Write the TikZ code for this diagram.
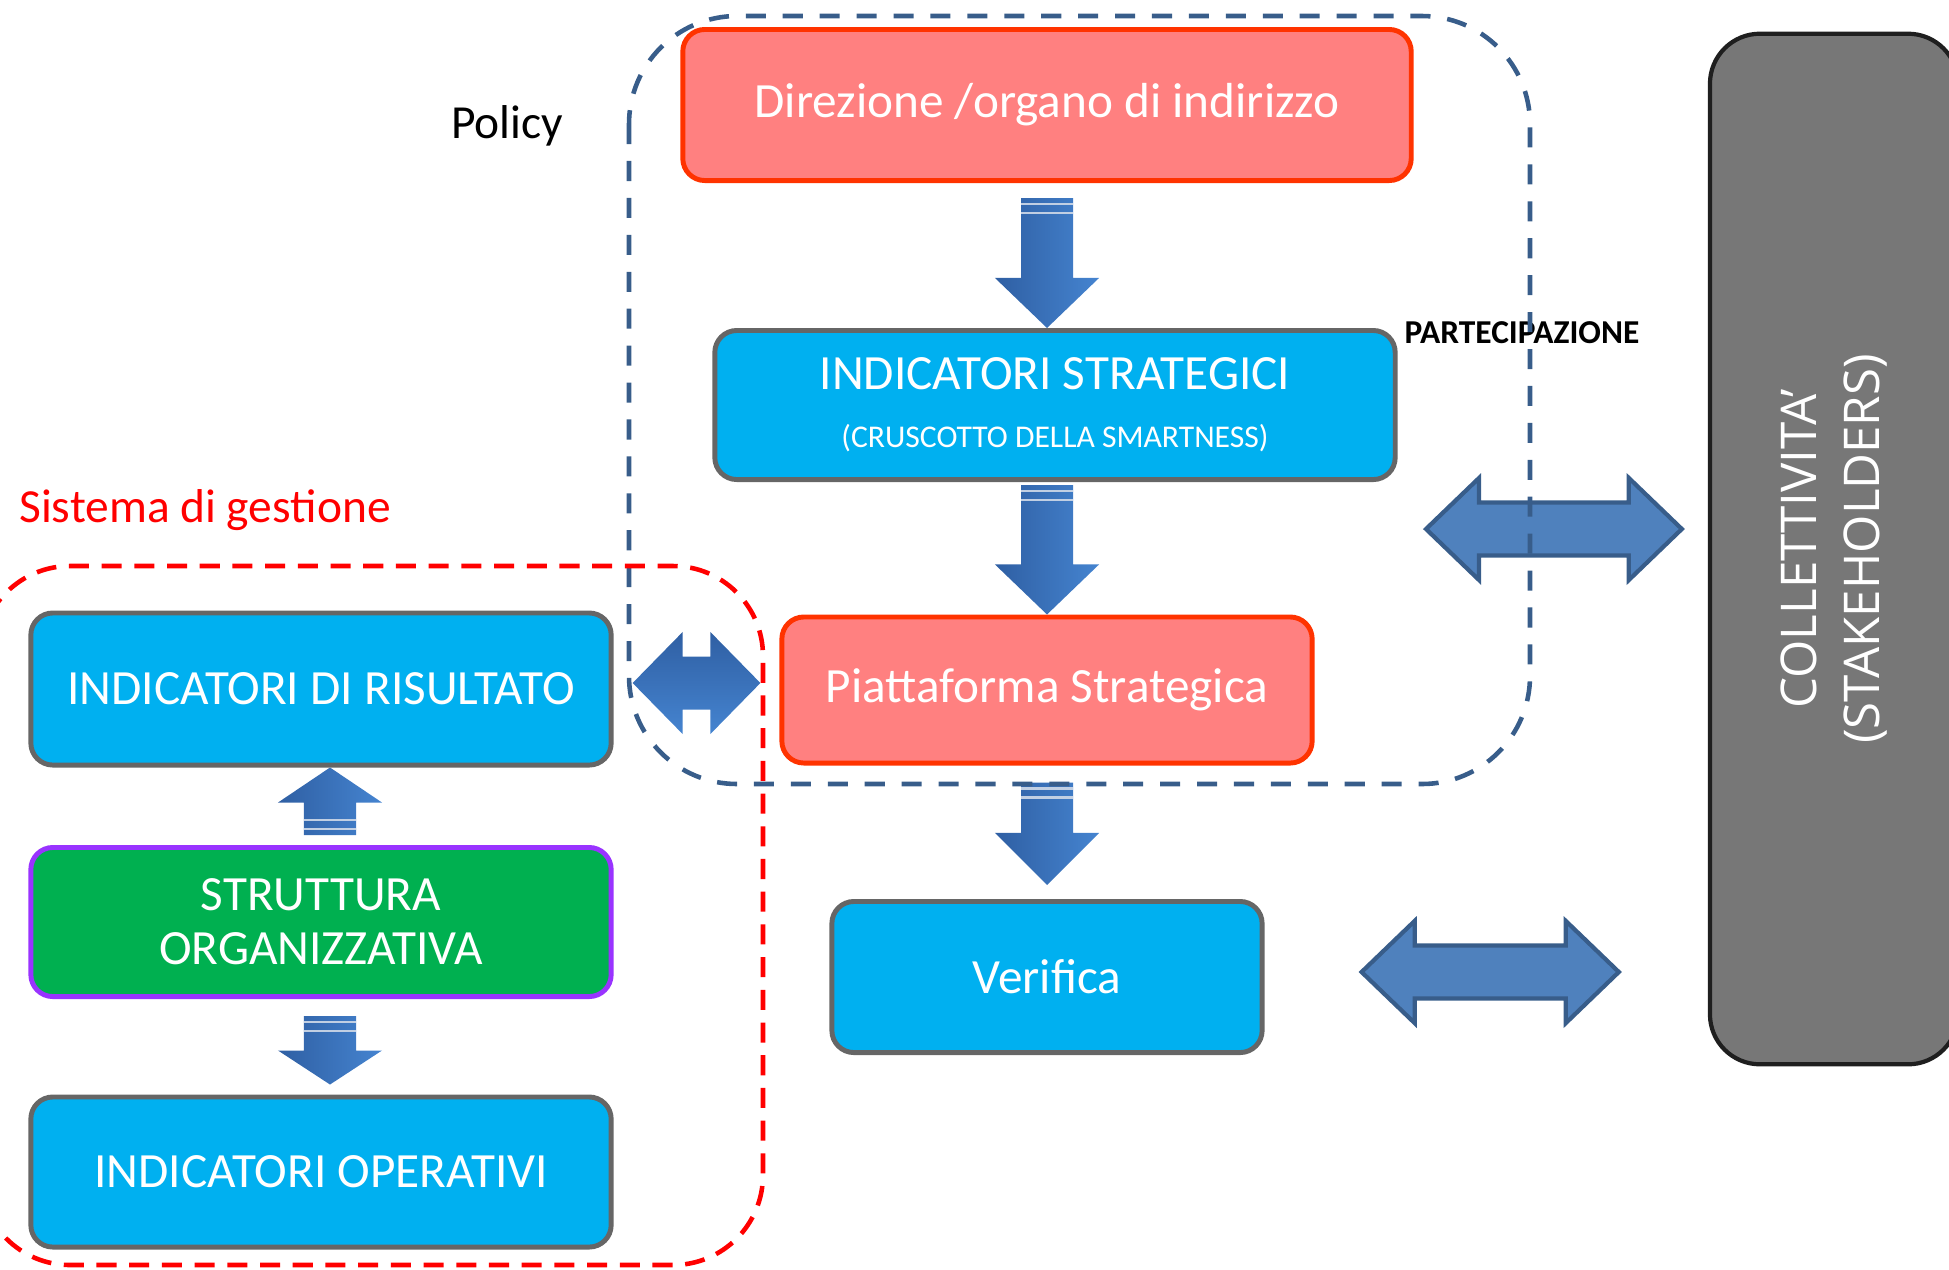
\documentclass[tikz,border=0pt]{standalone}
\usepackage{fontspec}
\setmainfont{Carlito}
\newfontfamily\collfont{Open Sans}
\usepackage{tikz}
\usetikzlibrary{calc}

\definecolor{boxpink}{HTML}{FF8080}
\definecolor{boxred}{HTML}{FF3300}
\definecolor{boxblue}{HTML}{00B0F0}
\definecolor{boxgray}{HTML}{666666}
\definecolor{boxgreen}{HTML}{00B050}
\definecolor{boxpurple}{HTML}{9933FF}
\definecolor{collgray}{HTML}{777777}
\definecolor{colledge}{HTML}{1F1F1F}
\definecolor{arrowdark}{HTML}{2F5FA3}
\definecolor{arrowlight}{HTML}{4584D0}
\definecolor{flatfill}{HTML}{4F81BD}
\definecolor{flatline}{HTML}{385D8A}
\definecolor{policyblue}{HTML}{385D8A}

\tikzset{
  mainbox/.style={rectangle, rounded corners=0.22cm, line width=1.4pt, text=white, align=center, font=\fontsize{14}{16.5}\selectfont},
  redbox/.style={mainbox, fill=boxpink, draw=boxred},
  bluebox/.style={mainbox, fill=boxblue, draw=boxgray},
  greenbox/.style={mainbox, fill=boxgreen, draw=boxpurple},
  vshade/.style={left color=arrowdark, right color=arrowlight},
  hshade/.style={top color=arrowdark, bottom color=arrowlight},
  flatarrow/.style={fill=flatfill, draw=flatline, line width=1.2pt},
}

% block arrow: tail, tip, head length
\newcommand{\vblock}[3]{%
  \shade[vshade] let \p1=(#1), \p2=(#2), \n1={sign(\y2-\y1)} in
    (\x2-0.26cm,\y1) -- (\x2+0.26cm,\y1) -- (\x2+0.26cm,{\y2-(\n1)*#3}) -- (\x2+0.52cm,{\y2-(\n1)*#3})
    -- (\p2) -- (\x2-0.52cm,{\y2-(\n1)*#3}) -- (\x2-0.26cm,{\y2-(\n1)*#3}) -- cycle;
  \draw[white!70!arrowdark, line width=0.7pt] let \p1=(#1), \p2=(#2), \n1={sign(\y2-\y1)} in
    (\x2-0.26cm,{\y1+(\n1)*0.06cm}) -- (\x2+0.26cm,{\y1+(\n1)*0.06cm})
    (\x2-0.26cm,{\y1+(\n1)*0.15cm}) -- (\x2+0.26cm,{\y1+(\n1)*0.15cm});
}
% double arrow: style, left tip, right tip, head length
\newcommand{\hdouble}[4]{%
  \path[#1] let \p1=(#2), \p2=(#3) in
    (\p1) -- (\x1+#4,\y1+0.51cm) -- (\x1+#4,\y1+0.265cm) -- (\x2-#4,\y1+0.265cm) -- (\x2-#4,\y1+0.51cm)
    -- (\x2,\y1) -- (\x2-#4,\y1-0.51cm) -- (\x2-#4,\y1-0.265cm) -- (\x1+#4,\y1-0.265cm) -- (\x1+#4,\y1-0.51cm) -- cycle;
}

\begin{document}
\begin{tikzpicture}[x=0.01cm, y=-0.01cm]
    \useasboundingbox (0,0) rectangle (1949,1269);
    \clip (0,0) rectangle (1949,1269);

    \node[redbox, minimum width=7.28cm, minimum height=1.51cm] (dir) at (1047,105) {Direzione /organo di indirizzo};
    \node[bluebox, minimum width=6.8cm, minimum height=1.49cm] (strat) at (1055,405) {INDICATORI STRATEGICI\\{\fontsize{9}{16.5}\selectfont (CRUSCOTTO DELLA SMARTNESS)}};
    \node[redbox, minimum width=5.3cm, minimum height=1.46cm] (piatt) at (1047,690) {Piattaforma Strategica};
    \node[bluebox, minimum width=4.3cm, minimum height=1.51cm] (verif) at (1047,977) {Verifica};

    \node[bluebox, minimum width=5.8cm, minimum height=1.52cm] (risult) at (321,689) {INDICATORI DI RISULTATO};
    \node[greenbox, minimum width=5.8cm, minimum height=1.49cm, font=\fontsize{14}{15.4}\selectfont] (strutt) at (321,922) {STRUTTURA\\ORGANIZZATIVA};
    \node[bluebox, minimum width=5.8cm, minimum height=1.5cm] (operat) at (321,1172) {INDICATORI OPERATIVI};

    \node[rectangle, rounded corners=0.5cm, fill=collgray, draw=colledge, line width=1.2pt, rotate=90, minimum width=10.3cm, minimum height=2.48cm, text=white, align=center, font=\collfont\fontsize{14}{18}\selectfont] (coll) at (1834,549) {COLLETTIVITA’\\(STAKEHOLDERS)};

    \node[anchor=base, font=\fontsize{13.5}{16}\selectfont] (policy) at (507,138) {Policy};
    \node[anchor=base, text=red, font=\fontsize{13.5}{16}\selectfont] (sistema) at (205,522) {Sistema di gestione};
    \node[anchor=base, font=\fontsize{9.5}{11}\selectfont\bfseries] (partecip) at (1522,343) {PARTECIPAZIONE};

    \vblock{$(dir.south)+(0,15)$}{dir.south |- strat.north}{0.5cm}
    \vblock{$(piatt.north |- strat.south)+(0,3)$}{piatt.north}{0.5cm}
    \vblock{$(piatt.south)+(0,17)$}{$(verif.north)+(0,-14)$}{0.52cm}
    \vblock{$(strutt.north)+(9,-10)$}{$(risult.south)+(9,0)$}{0.35cm}
    \vblock{$(strutt.south)+(9,17)$}{$(operat.north)+(9,-10)$}{0.34cm}

    \hdouble{hshade}{$(risult.east)+(19,-6)$}{$(piatt.west)+(-19,-7)$}{0.5cm}
    \coordinate (partL) at (1426,529);
    \hdouble{flatarrow}{partL}{$(coll.north |- partL)+(-26,0)$}{0.53cm}
    \hdouble{flatarrow}{$(verif.east)+(97,-5)$}{$(coll.north |- verif.east)+(-89,-5)$}{0.53cm}

    \draw[policyblue, line width=1.3pt, dash pattern=on 5.7pt off 4.8pt, rounded corners=1.08cm] (629,16) rectangle (1530,784);
    \draw[red, line width=1.3pt, dash pattern=on 5.7pt off 3.6pt, rounded corners=0.9cm] (-20,566) rectangle (763,1265);
\end{tikzpicture}
\end{document}
